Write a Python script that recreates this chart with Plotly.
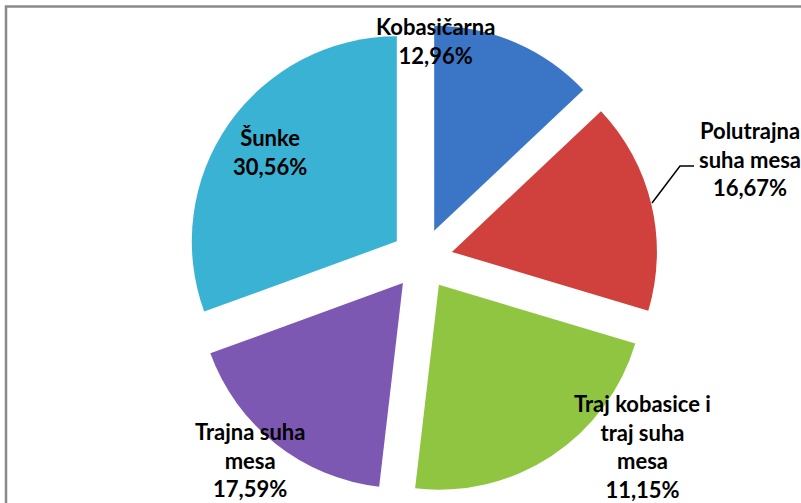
import plotly.graph_objects as go

W, H = 801, 503

categories = ["Kobasičarna", "Polutrajna suha mesa", "Traj kobasice i traj suha mesa",
              "Trajna suha mesa", "Šunke"]
values = [12.96, 16.67, 22.22, 17.59, 30.56]
pct_labels = ["12,96%", "16,67%", "11,15%", "17,59%", "30,56%"]
label_lines = ["Kobasičarna", "Polutrajna<br>suha mesa", "Traj kobasice i<br>traj suha<br>mesa",
               "Trajna suha<br>mesa", "Šunke"]
colors = ["#3B76C6", "#D0413D", "#8FC540", "#7D58B3", "#3AB2D3"]

# label block centres in pixels (style)
label_pos = [(435, 41), (750, 159), (642, 446), (250, 460), (270, 152)]


def px(x):
    return x / W


def py(y):
    return 1 - y / H


pull = 0.15
r = 205
cx, cy = 422, 259
half = r * (1 + pull)

fig = go.Figure(go.Pie(
    labels=categories,
    values=values,
    sort=False,
    direction="clockwise",
    rotation=0,
    pull=[pull] * len(values),
    marker=dict(colors=colors, line=dict(width=0)),
    textinfo="none",
    hoverinfo="label+percent",
    domain=dict(x=[px(cx - half), px(cx + half)], y=[py(cy + half), py(cy - half)]),
    showlegend=False,
))

for name, pct, (lx, ly) in zip(label_lines, pct_labels, label_pos):
    fig.add_annotation(
        x=px(lx), y=py(ly), xref="paper", yref="paper",
        text=f"{name}<br>{pct}", showarrow=False,
        xanchor="center", yanchor="middle", align="center",
        font=dict(family="Lato", size=22, color="#000000", weight="bold"),
    )

# leader line for Polutrajna label
fig.add_shape(type="path", xref="paper", yref="paper",
              path=f"M {px(694)} {py(166)} L {px(680)} {py(166)} L {px(652)} {py(203)}",
              line=dict(color="#000000", width=1.5))

# frame edges (left and top)
fig.add_shape(type="path", xref="paper", yref="paper",
              path=f"M {px(6)} {py(503)} L {px(6)} {py(6.5)} L {px(801)} {py(6.5)}",
              line=dict(color="#8A8A8A", width=2.5))

fig.update_layout(
    width=W, height=H,
    margin=dict(l=0, r=0, t=0, b=0),
    paper_bgcolor="white",
    plot_bgcolor="white",
)

fig.write_html(
    "out.html",
    config={"displayModeBar": False},
    post_script="document.body.style.margin='0';document.body.style.overflow='hidden';",
)
